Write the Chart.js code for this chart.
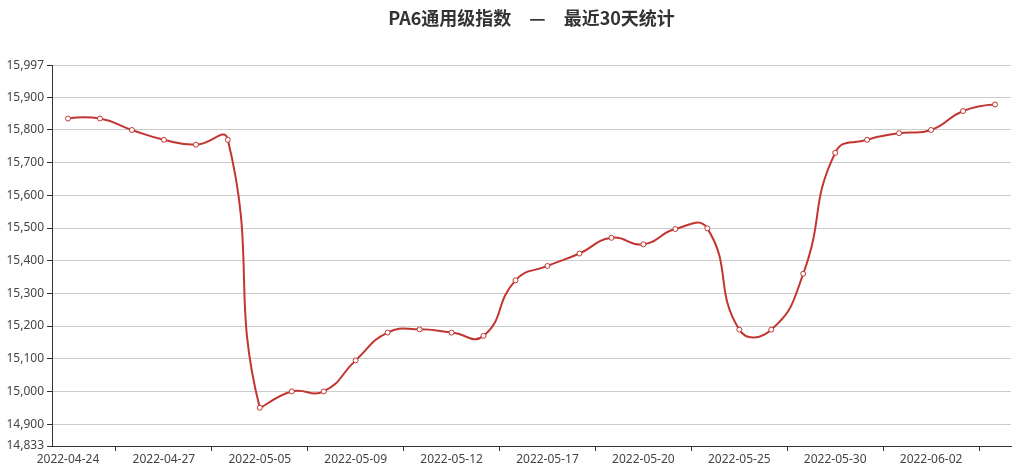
<!DOCTYPE html>
<html>
<head>
<meta charset="utf-8">
<script src="https://cdn.jsdelivr.net/npm/chart.js@4/dist/chart.umd.min.js"></script>
<style>
  html, body { margin: 0; padding: 0; background: #fff; }
  #wrap { width: 1016px; height: 472px; position: relative; }
</style>
</head>
<body>
<div id="wrap"><canvas id="pa6-chart"></canvas></div>
<script>
/* PA6 index — last 30 days */

const titleText = 'PA6通用级指数　—　最近30天统计';

const dates = [
  '2022-04-24', '2022-04-25', '2022-04-26', '2022-04-27', '2022-04-28', '2022-04-29',
  '2022-05-05', '2022-05-06', '2022-05-07', '2022-05-09', '2022-05-10', '2022-05-11',
  '2022-05-12', '2022-05-13', '2022-05-16', '2022-05-17', '2022-05-18', '2022-05-19',
  '2022-05-20', '2022-05-23', '2022-05-24', '2022-05-25', '2022-05-26', '2022-05-27',
  '2022-05-30', '2022-05-31', '2022-06-01', '2022-06-02', '2022-06-06', '2022-06-07',
];

const indexValues = [
  15835, 15835, 15800, 15770, 15755, 15770,
  14950, 15000, 15000, 15095, 15180, 15190,
  15180, 15170, 15340, 15384, 15422, 15470,
  15450, 15497, 15499, 15189, 15189, 15360,
  15730, 15770, 15790, 15800, 15858, 15878,
];

const yTicks = [14833, 14900, 15000, 15100, 15200, 15300, 15400, 15500, 15600, 15700, 15800, 15900, 15997];

const LINE_RED = '#c23531';
const AXIS = '#333';
const LABEL = '#444';

// keep the smoothed curve inside the min/max of the data, like the original
const boundedSmooth = {
  id: 'boundedSmooth',
  beforeDatasetsDraw(chart) {
    const meta = chart.getDatasetMeta(0);
    const line = meta.dataset;
    const pts = meta.data;
    if (!line || !pts.length) return;
    line.updateControlPoints(chart.chartArea);
    const ys = pts.map((p) => p.y);
    const lo = Math.min(...ys);
    const hi = Math.max(...ys);
    pts.forEach((p, i) => {
      if (i === 0) { p.cp2x = p.x; p.cp2y = p.y; }
      if (i === pts.length - 1) { p.cp1x = p.x; p.cp1y = p.y; }
      p.cp1y = Math.min(hi, Math.max(lo, p.cp1y));
      p.cp2y = Math.min(hi, Math.max(lo, p.cp2y));
    });
  },
};

const ctx = document.getElementById('pa6-chart').getContext('2d');

new Chart(ctx, {
  type: 'line',
  data: {
    labels: dates,
    datasets: [{
      label: 'PA6通用级指数',
      data: indexValues,
      borderColor: LINE_RED,
      borderWidth: 2,
      tension: 0.5,
      pointRadius: 2.5,
      pointBorderWidth: 1,
      pointBackgroundColor: '#fff',
      pointBorderColor: LINE_RED,
      fill: false,
    }],
  },
  plugins: [boundedSmooth],
  options: {
    responsive: true,
    maintainAspectRatio: false,
    devicePixelRatio: 1,
    animation: false,
    layout: { padding: { top: 0, right: 3, bottom: 0, left: 0 } },
    plugins: {
      legend: { display: false },
      tooltip: { enabled: false },
      title: {
        display: true,
        text: titleText,
        fullSize: false,
        color: '#333',
        font: { family: '"Noto Sans CJK SC", "Noto Sans", sans-serif', size: 18, weight: 'bold' },
        padding: { top: 7, bottom: 37 },
      },
    },
    scales: {
      x: {
        type: 'category',
        offset: true,
        border: { display: true, color: AXIS, width: 1 },
        grid: {
          offset: true,
          drawOnChartArea: false,
          drawTicks: true,
          tickLength: 5,
          tickColor: (c) => (c.index !== undefined && c.index % 3 === 2 ? AXIS : 'rgba(0,0,0,0)'),
        },
        ticks: {
          autoSkip: false,
          maxRotation: 0,
          padding: 1,
          color: LABEL,
          font: { family: '"Noto Sans", sans-serif', size: 12 },
          callback: function (val, i) { return i % 3 === 0 ? this.getLabelForValue(val) : ''; },
        },
        afterFit: (scale) => { scale.height = 26; },
      },
      y: {
        min: 14833,
        max: 15997,
        border: { display: true, color: AXIS, width: 1 },
        grid: { color: '#ccc', tickColor: AXIS, tickLength: 5 },
        ticks: {
          padding: 3,
          color: LABEL,
          font: { family: '"Noto Sans", sans-serif', size: 12 },
          callback: (v) => Number(v).toLocaleString('en-US'),
        },
        afterBuildTicks: (scale) => { scale.ticks = yTicks.map((v) => ({ value: v })); },
        afterFit: (scale) => { scale.width = 52; },
      },
    },
  },
});
</script>
</body>
</html>
